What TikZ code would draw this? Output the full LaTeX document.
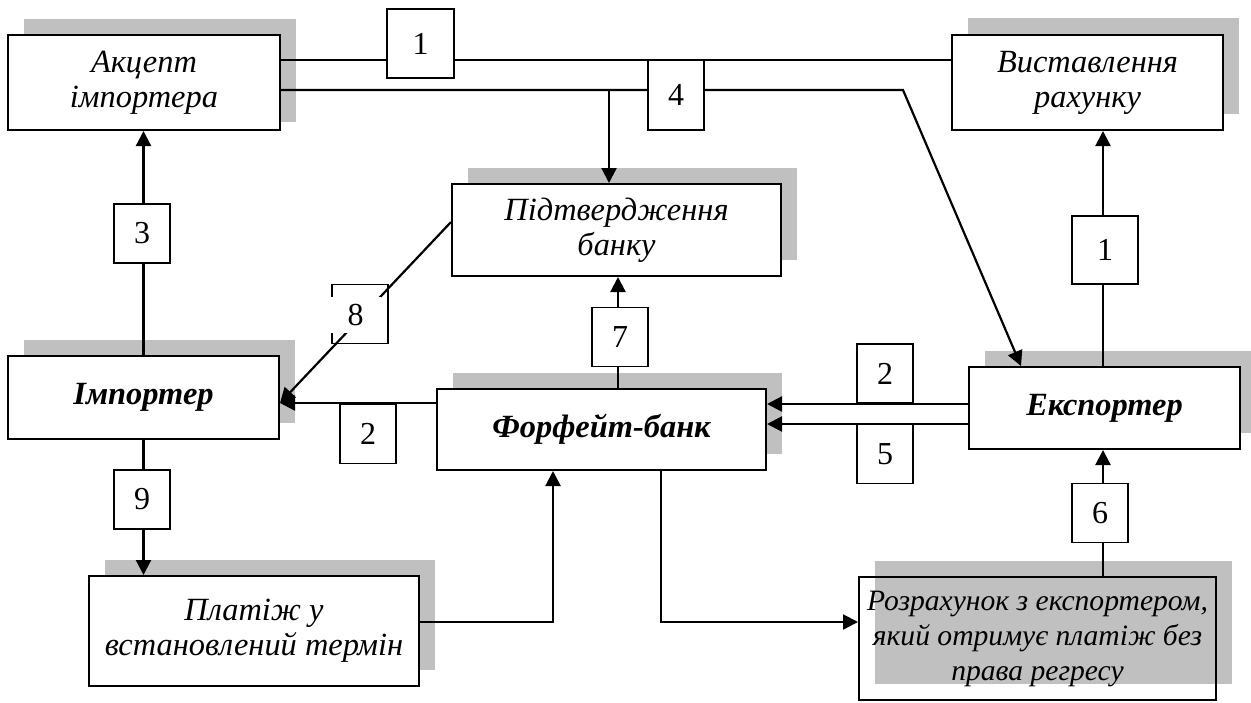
\documentclass[tikz,border=0pt]{standalone}
\usepackage{fontspec}
\setmainfont{Liberation Serif}
\usetikzlibrary{arrows.meta, shadows, calc}
\definecolor{shadowGrey}{HTML}{C0C0C0}

\begin{document}
\begin{tikzpicture}[x=0.5pt, y=-0.5pt,
  blok/.style={draw, fill=white, line width=1pt, align=center, inner sep=0pt,
    font=\fontsize{16.2}{17.5}\selectfont\itshape,
    drop shadow={shadow xshift=8pt, shadow yshift=8pt, fill=shadowGrey, opacity=1}},
  mainblok/.style={blok, font=\fontsize{16.2}{17.5}\selectfont\bfseries\itshape},
  numbox/.style={draw, fill=white, line width=0.9pt, inner sep=0pt,
    minimum width=28pt, minimum height=29.5pt, font=\fontsize{16}{18}\selectfont},
  ln/.style={line width=0.8pt},
  arr/.style={line width=1.1pt, -{Triangle[length=7.5pt, width=7.5pt]}}]

\useasboundingbox (0,0) rectangle (1251,702);

% blocks
\node[blok, minimum width=136pt, minimum height=47.5pt,
  drop shadow={shadow xshift=8pt, shadow yshift=4pt, fill=shadowGrey, opacity=1}]
  (akcept) at (144,82.5) {Акцепт\\імпортера};
\node[blok, minimum width=135.5pt, minimum height=47.5pt,
  drop shadow={shadow xshift=8pt, shadow yshift=8.5pt, fill=shadowGrey, opacity=1}]
  (rakhunok) at (1087.5,82.5) {Виставлення\\рахунку};
\node[blok, minimum width=164.5pt, minimum height=46pt]
  (pidtv) at (616.5,230) {Підтвердження\\банку};
\node[mainblok, minimum width=135.5pt, minimum height=41.5pt]
  (importer) at (143.5,397.5) {Імпортер};
\node[mainblok, minimum width=164.5pt, minimum height=40.5pt]
  (forfeit) at (601.5,429.5) {Форфейт-банк};
\node[mainblok, minimum width=135.5pt, minimum height=41pt]
  (exporter) at (1104.5,408) {Експортер};
\node[blok, minimum width=165pt, minimum height=55pt]
  (platizh) at (254,631) {Платіж у\\встановлений термін};
\node[blok, fill=none, minimum width=178.5pt, minimum height=61.5pt,
  font=\fontsize{14.8}{17.5}\selectfont\itshape]
  (rozrakh) at (1037.5,638.5) {Розрахунок з експортером,\\який отримує платіж без\\права регресу};

% connectors
\coordinate (bend4) at (903,90);
\coordinate (split4) at (609,90);
\draw[ln] (akcept.east |- 0,60) -- (rakhunok.west |- 0,60);
\draw[arr] (akcept.east |- 0,90) -- (bend4) -- ($(exporter.north west)+(53,0)$);
\draw[arr] (split4) -- (split4 |- pidtv.north);
\draw[arr] (importer.north) -- (importer.north |- akcept.south);
\draw[arr] ($(pidtv.west)+(0,-8)$) -- (importer.east |- 0,403);
\draw[arr] (forfeit.west |- 0,403) -- (importer.east |- 0,403);
\draw[arr] (618,0 |- forfeit.north) -- (618,0 |- pidtv.south);
\draw[arr] (exporter.west |- 0,404) -- (forfeit.east |- 0,404);
\draw[arr] (exporter.west |- 0,424) -- (forfeit.east |- 0,424);
\draw[arr] (importer.south) -- (importer.south |- platizh.north);
\draw[arr] (platizh.east |- 0,622) -| (553,0 |- forfeit.south);
\draw[arr] (661,0 |- forfeit.south) |- (rozrakh.west |- 0,622);
\draw[arr] (1103,0 |- exporter.north) -- (1103,0 |- rakhunok.south);
\draw[arr] (1103,0 |- rozrakh.north) -- (1103,0 |- exporter.south);

% step numbers
\node[numbox, minimum width=33.5pt, minimum height=34.5pt] (s1a) at (420.5,43.5) {1};
\node[numbox, minimum height=35pt] (s4) at (676,95) {4};
\node[numbox] (s3) at (142,233.5) {3};
\node[numbox, fill=none] (s8) at (360,314) {};
\node[fill=white, inner sep=0pt, minimum width=25.5pt, minimum height=18pt,
  font=\fontsize{16}{18}\selectfont] (s8t) at (355.5,315) {8};
\node[numbox] (s7) at (620,337) {7};
\node[numbox] (s2r) at (885,373.5) {2};
\node[numbox] (s5) at (885,454) {5};
\node[numbox] (s2l) at (368,434) {2};
\node[numbox] (s9) at (142,499.5) {9};
\node[numbox, minimum width=33pt, minimum height=34pt] (s1b) at (1105,250) {1};
\node[numbox] (s6) at (1100,513) {6};
\end{tikzpicture}
\end{document}
